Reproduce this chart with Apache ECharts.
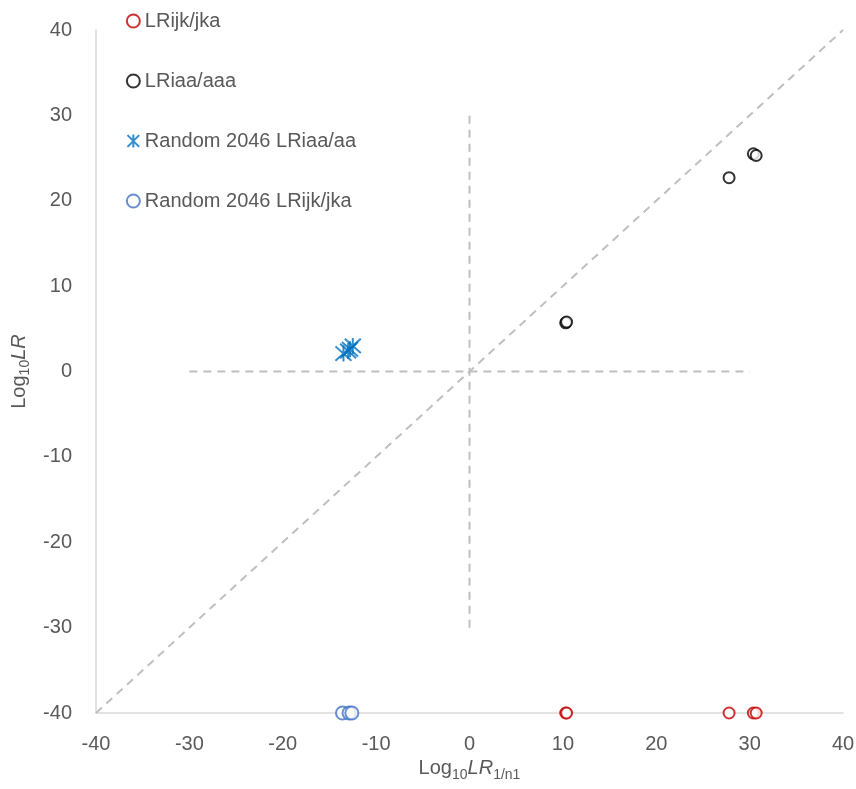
<!DOCTYPE html>
<html><head><meta charset="utf-8">
<script src="https://cdn.jsdelivr.net/npm/echarts@6/dist/echarts.min.js"></script>
<style>html,body{margin:0;padding:0;background:#fff}#c{width:856px;height:789px}</style>
</head><body><div id="c"></div>
<script>
const seriesNames = ['LRijk/jka', 'LRiaa/aaa', 'Random 2046 LRiaa/aa', 'Random 2046 LRijk/jka'];
const lrijkX = [10.3, 10.4, 27.8, 30.4, 30.7];
const lrijkY = [-40, -40, -40, -40, -40];
const lriaaX = [10.3, 10.4, 27.8, 30.4, 30.7];
const lriaaY = [5.7, 5.8, 22.7, 25.5, 25.3];
const randAaX = [-13.5, -13.0, -12.8, -12.5];
const randAaY = [2.1, 2.4, 2.6, 3.0];
const randJkX = [-13.6, -12.9, -12.6];
const randJkY = [-40, -40, -40];
const diagX = [-40, 40], diagY = [-40, 40];
const horizX = [-30, 30], horizY = [0, 0];
const vertX = [0, 0], vertY = [-30, 30];

const zip = (a, b) => a.map((v, i) => [v, b[i]]);
const star = 'path://M0,-10L0,10M-9,-9L9,9M-9,9L9,-9';
const labelFont = 'Liberation Sans';
const grey = '#595959';

const dashLine = (xs, ys) => ({
  type: 'line', data: zip(xs, ys), symbol: 'none', silent: true, z: 1,
  lineStyle: { color: '#BFBFBF', width: 2, type: [8, 6] }
});
const scatter = (name, xs, ys, color, symbol, size) => ({
  name, type: 'scatter', data: zip(xs, ys), symbol, symbolSize: size, z: 5,
  itemStyle: { color: symbol === 'circle' ? '#fff' : 'none', borderColor: color, borderWidth: 2 }
});
const rich = {
  m: { fontSize: 20, color: grey, lineHeight: 28, verticalAlign: 'top' },
  i: { fontSize: 20, color: grey, fontStyle: 'italic', lineHeight: 28, verticalAlign: 'top' },
  s: { fontSize: 14, color: grey, lineHeight: 28, verticalAlign: 'top', padding: [9, 0, 0, 0] }
};

const chart = echarts.init(document.getElementById('c'));
chart.setOption({
  animation: false,
  textStyle: { fontFamily: labelFont },
  grid: { left: 96, right: 13, top: 30, bottom: 76, containLabel: false, outerBoundsMode: 'none' },
  legend: {
    orient: 'vertical', left: 120, top: 6, itemGap: 40, itemWidth: 13, itemHeight: 13,
    textStyle: { color: grey, fontSize: 20, fontFamily: labelFont },
    data: [
      { name: seriesNames[0], icon: 'circle', itemStyle: { borderWidth: 2 } },
      { name: seriesNames[1], icon: 'circle', itemStyle: { borderWidth: 2 } },
      { name: seriesNames[2], icon: star, itemStyle: { borderWidth: 2 } },
      { name: seriesNames[3], icon: 'circle', itemStyle: { borderWidth: 2 } }
    ]
  },
  xAxis: {
    type: 'value', min: -40, max: 40, interval: 10,
    axisLine: { show: true, onZero: false, lineStyle: { color: '#D9D9D9', width: 1.5 } },
    axisTick: { show: false }, splitLine: { show: false },
    axisLabel: { color: grey, fontSize: 20, margin: 21 },
    name: '{m|Log}{s|10}{i|LR}{s|1/n1}', nameLocation: 'middle', nameGap: 45,
    nameTextStyle: { color: grey, rich }
  },
  yAxis: {
    type: 'value', min: -40, max: 40, interval: 10,
    axisLine: { show: true, onZero: false, lineStyle: { color: '#D9D9D9', width: 1.5 } },
    axisTick: { show: false }, splitLine: { show: false },
    axisLabel: { color: grey, fontSize: 20, margin: 24 },
    name: '{m|Log}{s|10}{i|LR}', nameLocation: 'middle', nameGap: 58, nameRotate: 90,
    nameTextStyle: { color: grey, rich }
  },
  series: [
    dashLine(diagX, diagY),
    dashLine(horizX, horizY),
    dashLine(vertX, vertY),
    scatter(seriesNames[0], lrijkX, lrijkY, '#C00000', 'circle', 11),
    scatter(seriesNames[1], lriaaX, lriaaY, '#000000', 'circle', 11),
    scatter(seriesNames[2], randAaX, randAaY, '#0070C0', star, 16),
    scatter(seriesNames[3], randJkX, randJkY, '#4472C4', 'circle', 13)
  ]
});
</script></body></html>
